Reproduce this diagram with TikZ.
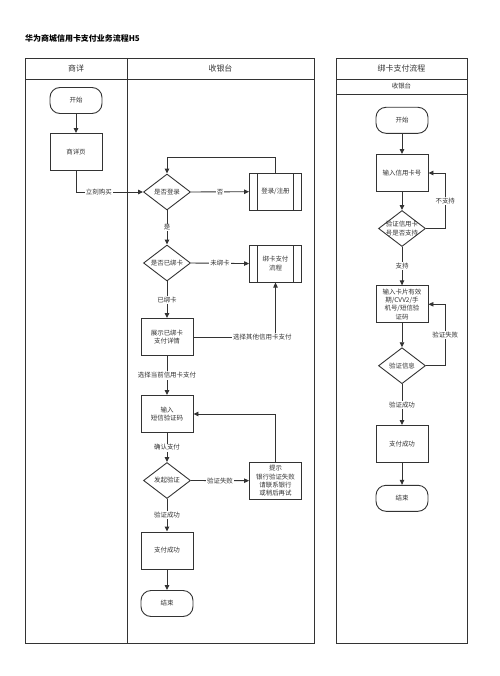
\documentclass[tikz,border=0pt]{standalone}
\usepackage{fontspec}
\setmainfont{Noto Sans CJK SC}
\usetikzlibrary{shapes.geometric,arrows.meta,calc}
\definecolor{ln}{HTML}{333333}
\definecolor{tx}{HTML}{333333}
\newcommand{\bodyfont}{\fontsize{6.5}{8.3}\selectfont}
\tikzset{
  pool/.style={draw=ln, line width=0.9bp},
  base/.style={draw=ln, line width=0.9bp, text=tx, font=\bodyfont, align=center, inner sep=1bp},
  proc/.style={base, rectangle, minimum width=52bp, minimum height=37bp},
  term/.style={base, rectangle, rounded corners=10bp, minimum width=52bp, minimum height=26bp},
  subproc/.style={proc, path picture={
      \draw[ln, line width=0.9bp]
        ([xshift=8bp]path picture bounding box.north west) -- ([xshift=8bp]path picture bounding box.south west)
        ([xshift=-8bp]path picture bounding box.north east) -- ([xshift=-8bp]path picture bounding box.south east);}},
  dia/.style={draw=ln, line width=0.9bp, shape=diamond, minimum width=47bp, minimum height=36bp, inner sep=0pt},
  dlab/.style={text=tx, font=\bodyfont, align=center, inner sep=0pt},
  arr/.style={draw=ln, line width=0.9bp, -{Triangle[length=5bp,width=4.5bp]}},
  lbl/.style={fill=white, text=tx, font=\bodyfont, inner sep=1bp},
  hdr/.style={text=tx, font=\fontsize{8}{10}\selectfont, inner sep=0pt},
  hdrs/.style={text=tx, font=\bodyfont, inner sep=0pt},
}
\begin{document}
\begin{tikzpicture}[x=1bp,y=-1bp]
\useasboundingbox (0,0) rectangle (500,676);
% title
\node[anchor=west, text=black, font=\bfseries\fontsize{8}{10}\selectfont, inner sep=0pt] (title) at (25,38) {华为商城信用卡支付业务流程H5};
% pools
\draw[pool] (25,58) rectangle (314,643);
\draw[pool] (25,79) -- (314,79);
\draw[pool] (127,58) -- (127,643);
\draw[pool] (336,58) rectangle (467,643);
\draw[pool] (336,79) -- (467,79) (336,94) -- (467,94);
\node[hdr] (h1) at (76,68.5) {商详};
\node[hdr] (h2) at (220.5,68.5) {收银台};
\node[hdr] (h3) at (401.5,68.5) {绑卡支付流程};
\node[hdrs] (h4) at (401.5,86.5) {收银台};
% left nodes
\node[term] (start1) at (76,100.5) {开始};
\node[proc] (detail) at (76,152) {商详页};
\node[dia, label={[dlab]center:是否登录}] (D1) at (167,192) {};
\node[subproc] (L) at (275.5,191.7) {登录/注册};
\node[dia, label={[dlab]center:是否已绑卡}] (D2) at (167,263) {};
\node[subproc] (B) at (275.5,263.6) {绑卡支付\\流程};
\node[proc] (S) at (167,337) {展示已绑卡\\支付详情};
\node[proc] (M) at (167,414) {输入\\短信验证码};
\node[dia, label={[dlab]center:发起验证}] (D3) at (167,480.5) {};
\node[proc] (H) at (275.5,480.7) {提示\\银行验证失败\\请联系银行\\或稍后再试};
\node[proc] (P) at (167,550.5) {支付成功};
\node[term] (E) at (167,603.5) {结束};
% right nodes
\node[term] (start2) at (402,120.3) {开始};
\node[proc] (C) at (402,173) {输入信用卡号};
\node[dia, label={[dlab]center:{验证信用卡\\号是否支持}}] (D4) at (402,228.5) {};
\node[proc] (I) at (402,304.3) {输入卡片有效\\期/CVV2/手\\机号/短信验\\证码};
\node[dia, label={[dlab]center:验证信息}] (D5) at (402,365.7) {};
\node[proc] (P2) at (402,444) {支付成功};
\node[term] (E2) at (402,498.3) {结束};
% left connectors
\draw[arr] (start1) -- (detail);
\draw[arr] (detail.south) |- node[pos=0.67,lbl]{立刻购买} (D1.west);
\draw[arr] (D1.east) -- node[lbl]{否} (L.west);
\draw[arr] (L.north) -- ++(0,-15.6) -| (D1.north);
\draw[arr] (D1.south) -- node[lbl]{是} (D2.north);
\draw[arr] (D2.east) -- node[lbl]{未绑卡} (B.west);
\draw[arr] (D2.south) -- node[lbl]{已绑卡} (S.north);
\draw[arr] (S.east) -| node[pos=0.42,lbl]{选择其他信用卡支付} (B.south);
\draw[arr] (S.south) -- node[lbl]{选择当前信用卡支付} (M.north);
\draw[arr] (M.south) -- node[lbl]{确认支付} (D3.north);
\draw[arr] (D3.east) -- node[lbl]{验证失败} (H.west);
\draw[arr] (H.north) |- (M.east);
\draw[arr] (D3.south) -- node[lbl]{验证成功} (P.north);
\draw[arr] (P) -- (E);
% right connectors
\draw[arr] (start2) -- (C);
\draw[arr] (C) -- (D4);
\draw[arr] (D4.east) -- ++(19.3,0) |- node[pos=0.25,lbl]{不支持} (C.east);
\draw[arr] (D4.south) -- node[lbl]{支持} (I.north);
\draw[arr] (I) -- (D5);
\draw[arr] (D5.east) -- ++(19.3,0) |- node[pos=0.25,lbl]{验证失败} (I.east);
\draw[arr] (D5.south) -- node[lbl]{验证成功} (P2.north);
\draw[arr] (P2) -- (E2);
\end{tikzpicture}
\end{document}
